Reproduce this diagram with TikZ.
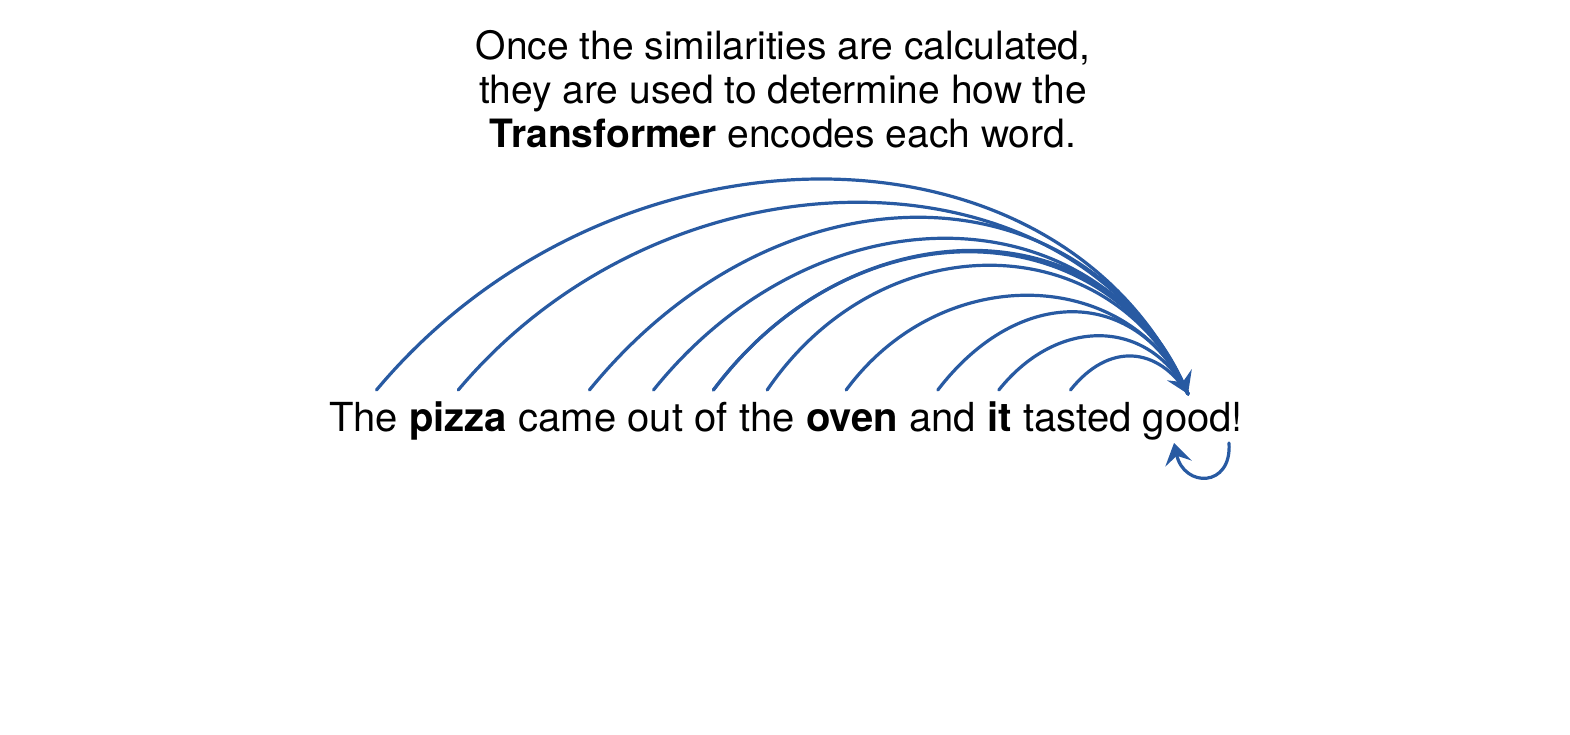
\documentclass[tikz,border=0pt]{standalone}
\usepackage{fontspec}
\setmainfont{TeX Gyre Heros}
\usepackage{xcolor}
\usepackage{tikz}
\usetikzlibrary{arrows.meta,positioning,calc}

\definecolor{arcblue}{RGB}{40,90,162}

\begin{document}
\begin{tikzpicture}[x=1pt, y=-1pt,
    word/.style={inner sep=0pt, outer sep=0pt, font=\fontsize{40}{48}\selectfont},
    capline/.style={inner sep=0pt, anchor=base, font=\fontsize{39}{44}\selectfont},
    attn/.style={arcblue, line width=3.2pt, line cap=round},
    head/.style={-{Stealth[length=21pt, width=27pt, inset=8pt]}}]
  \useasboundingbox (0,0) rectangle (1570,734);

  % Caption
  \node[capline] (cap1) at (783,59) {Once the similarities are calculated,};
  \node[capline] (cap2) at (783,103) {they are used to determine how the};
  \node[capline] (cap3) at (783,147) {\textbf{Transformer} encodes each word.};

  % Sentence, one node per word
  \node[word, anchor=base west] (w1) at (329,431) {The};
  \node[word, base right=11.4pt of w1] (w2) {\textbf{pizza}};
  \node[word, base right=11.4pt of w2] (w3) {came};
  \node[word, base right=11.4pt of w3] (w4) {out};
  \node[word, base right=11.4pt of w4] (w5) {of};
  \node[word, base right=11.4pt of w5] (w6) {the};
  \node[word, base right=11.4pt of w6] (w7) {\textbf{oven}};
  \node[word, base right=11.4pt of w7] (w8) {and};
  \node[word, base right=11.4pt of w8] (w9) {\textbf{it}};
  \node[word, base right=11.4pt of w9] (w10) {tasted};
  \node[word, base right=11.4pt of w10] (w11) {good!};

  \coordinate (tip) at ($(w11.base)+(-5,-37)$);

  % Attention arcs into "good"
  \foreach \w/\dx/\h/\a/\b in {w1/13/284/238/125, w2/0/253/213/112, w3/22/233/190/104,
      w4/-2/205/165/92, w5/2/187/140/84, w6/0/169/115/76, w7/-6/129/95/60,
      w8/-5/107/82/50, w9/-1/75/60/38, w10/-7/48/38/30}
    \draw[attn] ($(\w.base)+(\dx,-41)$) .. controls +(\a,-\h) and +(-\b,-\h) .. (tip);
  \draw[attn, head] ($(w5.base)+(2,-41)$) .. controls +(140,-187) and +(-84,-187) .. (tip);

  % Self loop
  \draw[attn, head] ($(w11.base)+(36,12)$) .. controls +(3,45) and +(10,45) .. ($(w11.base)+(-19,12)$);
\end{tikzpicture}
\end{document}
